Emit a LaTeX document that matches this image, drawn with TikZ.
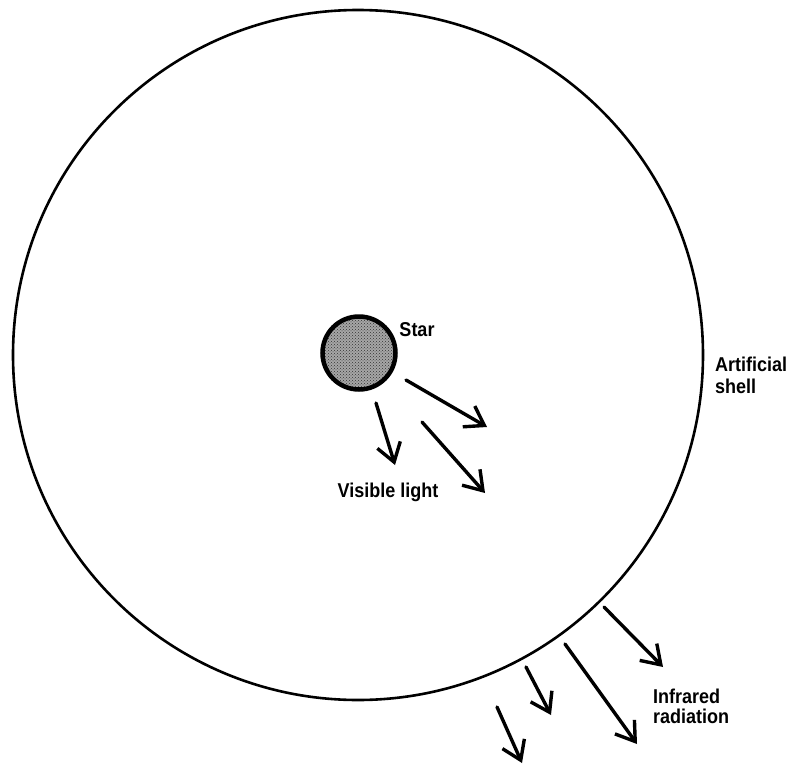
\documentclass[tikz,border=0pt]{standalone}
\usepackage{fontspec}
\setmainfont{Liberation Sans}[FakeStretch=0.9]
\usetikzlibrary{arrows.meta,patterns}
\tikzset{
  shellline/.style={draw=black,line width=2.6pt,circle,inner sep=0pt},
  starball/.style={draw=black,line width=4.5pt,circle,inner sep=0pt,preaction={fill=black!35},pattern=crosshatch dots,pattern color=black!80},
  ray/.style={draw=black,line width=3.4pt,line cap=round,-{Straight Barb[length=18pt,width=24pt,line width=3.4pt]}},
  lbl/.style={font=\fontsize{20}{22}\selectfont\bfseries,inner sep=0pt,align=left},
}
\begin{document}
\begin{tikzpicture}[x=1pt,y=-1pt]
\useasboundingbox (0,0) rectangle (788,766);
\fill[white] (0,0) rectangle (788,766);
% shell and star
\node[shellline,minimum size=690pt] (shell) at (358,355) {};
\node[starball,minimum size=73pt] (star) at (359,353) {};
% labels
\node[lbl] (starlbl) at (417,330) {Star};
\node[lbl,anchor=base] (vislbl) at (388,497) {Visible light};
\node[lbl,anchor=north west] (shelllbl) at (715,357) {Artificial\\shell};
\node[lbl,anchor=north west,font=\fontsize{20}{20}\selectfont\bfseries] (irlbl) at (653,689) {Infrared\\radiation};
% visible light rays
\coordinate (v1s) at (406,380); \coordinate (v1e) at (487,427);
\coordinate (v2s) at (376,403); \coordinate (v2e) at (395,465);
\coordinate (v3s) at (422,422); \coordinate (v3e) at (485,493);
\draw[ray] (v1s) -- (v1e);
\draw[ray] (v2s) -- (v2e);
\draw[ray] (v3s) -- (v3e);
% infrared rays
\coordinate (i1s) at (604,607); \coordinate (i1e) at (663,667);
\coordinate (i2s) at (565,644); \coordinate (i2e) at (637,744);
\coordinate (i3s) at (526,667); \coordinate (i3e) at (551,715);
\coordinate (i4s) at (497,707); \coordinate (i4e) at (522,763);
\draw[ray] (i1s) -- (i1e);
\draw[ray] (i2s) -- (i2e);
\draw[ray] (i3s) -- (i3e);
\draw[ray] (i4s) -- (i4e);
\end{tikzpicture}
\end{document}
